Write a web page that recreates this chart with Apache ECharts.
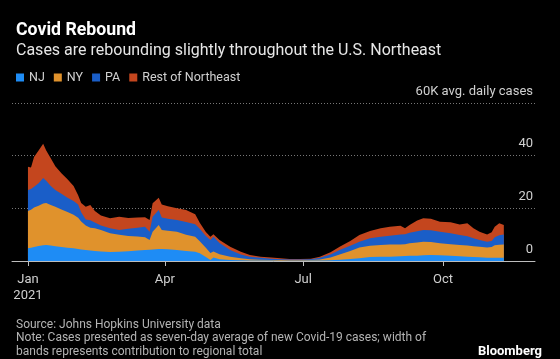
<!DOCTYPE html>
<html>
<head>
<meta charset="utf-8">
<script src="https://cdn.jsdelivr.net/npm/echarts@6/dist/echarts.min.js"></script>
<style>
html,body{margin:0;padding:0;background:#000;}
#chart{width:560px;height:359px;}
</style>
</head>
<body>
<div id="chart"></div>
<script>
// ---- data (thousands of avg. daily cases, 7-day average) ----
var dates = ['2021-01-01','2021-01-03','2021-01-05','2021-01-08','2021-01-11','2021-01-13','2021-01-16','2021-01-19','2021-01-23','2021-01-27','2021-01-31','2021-02-03','2021-02-05','2021-02-08','2021-02-11','2021-02-14','2021-02-18','2021-02-24','2021-03-02','2021-03-08','2021-03-14','2021-03-19','2021-03-22','2021-03-24','2021-03-28','2021-03-30','2021-04-03','2021-04-09','2021-04-15','2021-04-21','2021-04-24','2021-04-28','2021-05-01','2021-05-03','2021-05-07','2021-05-14','2021-05-21','2021-05-27','2021-06-03','2021-06-10','2021-06-16','2021-06-22','2021-06-29','2021-07-06','2021-07-12','2021-07-19','2021-07-25','2021-08-01','2021-08-07','2021-08-14','2021-08-21','2021-08-27','2021-09-03','2021-09-06','2021-09-09','2021-09-14','2021-09-18','2021-09-23','2021-09-29','2021-10-06','2021-10-12','2021-10-17','2021-10-21','2021-10-25','2021-10-30','2021-11-02','2021-11-04','2021-11-07','2021-11-10'];
var nj   = [4.8,5.0,5.3,5.7,6.0,6.1,5.9,5.6,5.3,5.0,4.8,4.6,4.4,4.2,4.0,3.8,3.6,3.4,3.5,3.7,4.0,4.2,4.3,4.4,4.6,4.6,4.5,4.2,3.8,3.5,2.9,1.5,0.4,1.3,0.7,0.4,0.3,0.2,0.2,0.15,0.1,0.1,0.1,0.15,0.2,0.3,0.5,0.8,1.0,1.5,1.6,1.6,1.8,1.9,2.0,2.0,2.2,2.3,2.2,2.0,1.8,1.6,1.5,1.4,1.2,1.2,1.2,1.2,1.2];
var ny   = [14.2,14.5,15.0,15.3,15.8,15.9,15.4,15.0,14.3,13.6,12.8,11.8,10.6,9.3,8.6,8.6,8.2,7.1,6.5,5.8,5.3,4.8,3.7,6.7,9.1,7.2,7.0,6.9,6.2,5.7,4.6,3.5,2.6,2.3,1.9,1.2,0.7,0.5,0.3,0.25,0.25,0.2,0.2,0.25,0.4,1.0,2.0,3.0,4.1,4.3,4.5,4.7,4.5,4.5,4.7,5.0,5.1,4.9,4.5,4.4,4.3,4.3,4.1,4.0,3.9,4.1,4.8,5.0,5.1];
var pa   = [8.0,7.8,7.9,8.5,9.7,8.5,7.2,6.4,5.9,5.4,5.2,5.1,3.5,2.3,2.9,2.2,1.7,1.9,1.8,2.7,3.3,4.0,3.1,5.7,5.7,4.7,4.5,4.5,4.8,4.8,4.7,4.5,5.0,5.6,4.2,2.6,1.5,0.9,0.7,0.5,0.35,0.3,0.3,0.3,0.6,1.2,1.7,2.0,2.2,2.8,3.1,3.3,3.8,3.8,4.0,4.3,4.5,4.5,4.4,4.1,3.8,3.5,3.0,2.6,2.2,2.3,3.0,3.6,3.8];
var rest = [8.8,8.2,11.3,12.5,13.0,11.5,10.5,9.0,7.8,7.0,5.7,3.5,3.5,4.8,5.8,4.4,3.8,3.8,5.0,4.1,3.9,3.6,4.5,5.1,4.6,5.0,4.8,4.4,4.6,3.8,2.3,1.5,1.2,1.0,1.2,1.2,1.0,0.7,0.4,0.4,0.3,0.2,0.2,0.2,0.4,0.8,1.2,1.8,2.6,2.8,3.2,3.4,3.3,2.2,3.0,4.1,4.4,4.3,3.8,4.2,4.0,4.9,3.8,3.1,2.8,3.3,4.0,4.5,3.6];
var seriesNames = ['NJ','NY','PA','Rest of Northeast'];
var seriesColors = ['#1e8cf5','#e0922c','#1a5ec8','#c4461e'];
var tickDates = ['2021-01-01','2021-04-01','2021-07-01','2021-10-01'];
var tickLabels = ['Jan\n2021','Apr','Jul','Oct'];
var yTicks = [0,20,40,60];
var yTickLabels = ['0','20','40','60K avg. daily cases'];

// day number since 2021-01-01 (UTC based, no timezone issues)
function dayNum(s){ var p = s.split('-'); return Math.round((Date.UTC(+p[0], +p[1]-1, +p[2]) - Date.UTC(2021,0,1)) / 86400000); }

var FONT = 'Roboto, "Liberation Sans", sans-serif';
var layers = [nj, ny, pa, rest];
// cumulative stack tops (bottom layer first)
var tops = [];
layers.forEach(function(vals, k){
  tops.push(vals.map(function(v, i){ return v + (k > 0 ? tops[k-1][i] : 0); }));
});
var allSeries = [];
// draw top band first so lower bands paint over it
for (var k = layers.length - 1; k >= 0; k--) {
  (function(k){
    allSeries.push({
      name: seriesNames[k],
      type: 'line',
      showSymbol: false,
      symbol: 'none',
      lineStyle: {width: 0},
      areaStyle: {color: seriesColors[k], opacity: 1},
      itemStyle: {color: seriesColors[k]},
      emphasis: {disabled: true},
      data: dates.map(function(d, i){ return [dayNum(d), tops[k][i]]; })
    });
  })(k);
}
var tickDays = tickDates.map(dayNum);

var chart = echarts.init(document.getElementById('chart'), null, {renderer: 'canvas'});
chart.setOption({
  backgroundColor: '#000',
  animation: false,
  textStyle: {fontFamily: FONT},
  title: [
    {text: 'Covid Rebound', left: 11, top: 17, textStyle: {color: '#fff', fontSize: 17.7, fontWeight: 'bold', fontFamily: FONT}},
    {text: 'Cases are rebounding slightly throughout the U.S. Northeast', left: 11, top: 38, textStyle: {color: '#e6e6e6', fontSize: 16, fontWeight: 'normal', fontFamily: FONT}},
    {text: 'Source: Johns Hopkins University data\nNote: Cases presented as seven-day average of new Covid-19 cases; width of\nbands represents contribution to regional total', left: 11, top: 313, textStyle: {color: '#b4b4b4', fontSize: 12, fontWeight: 'normal', lineHeight: 13.5, fontFamily: FONT}},
    {text: 'Bloomberg', right: 13, top: 340, textStyle: {color: '#fff', fontSize: 13, fontWeight: 'bold', fontFamily: FONT}}
  ],
  legend: {
    left: 11, top: 66,
    icon: 'rect', itemWidth: 8, itemHeight: 8, itemGap: 9,
    textStyle: {color: '#d0d0d0', fontSize: 12.5, fontFamily: FONT},
    data: seriesNames,
    selectedMode: false
  },
  grid: {left: 12, right: 25, top: 103, bottom: 98, containLabel: false},
  xAxis: {
    type: 'value',
    min: -10.5,
    max: 333.5,
    axisLine: {show: true, onZero: false, lineStyle: {color: '#bdbdbd', width: 1}},
    axisTick: {show: true, length: 5, lineStyle: {color: '#bdbdbd'}, customValues: tickDays},
    axisLabel: {
      customValues: tickDays,
      color: '#d0d0d0', fontSize: 13, lineHeight: 16, margin: 11, fontFamily: FONT,
      formatter: function(v){ var i = tickDays.indexOf(v); return i >= 0 ? tickLabels[i] : ''; }
    },
    splitLine: {show: false}
  },
  yAxis: {
    type: 'value',
    position: 'right',
    min: 0, max: 60, interval: 20,
    axisLine: {show: false},
    axisTick: {show: false},
    axisLabel: {
      inside: true, margin: 2, color: '#d0d0d0', fontSize: 13, fontFamily: FONT,
      verticalAlign: 'bottom', padding: [0, 0, 5, 0],
      formatter: function(v){ var i = yTicks.indexOf(v); return i >= 0 ? yTickLabels[i] : ''; }
    },
    splitLine: {show: true, lineStyle: {color: '#777', type: [1, 2], width: 1}}
  },
  series: allSeries
});
</script>
</body>
</html>
